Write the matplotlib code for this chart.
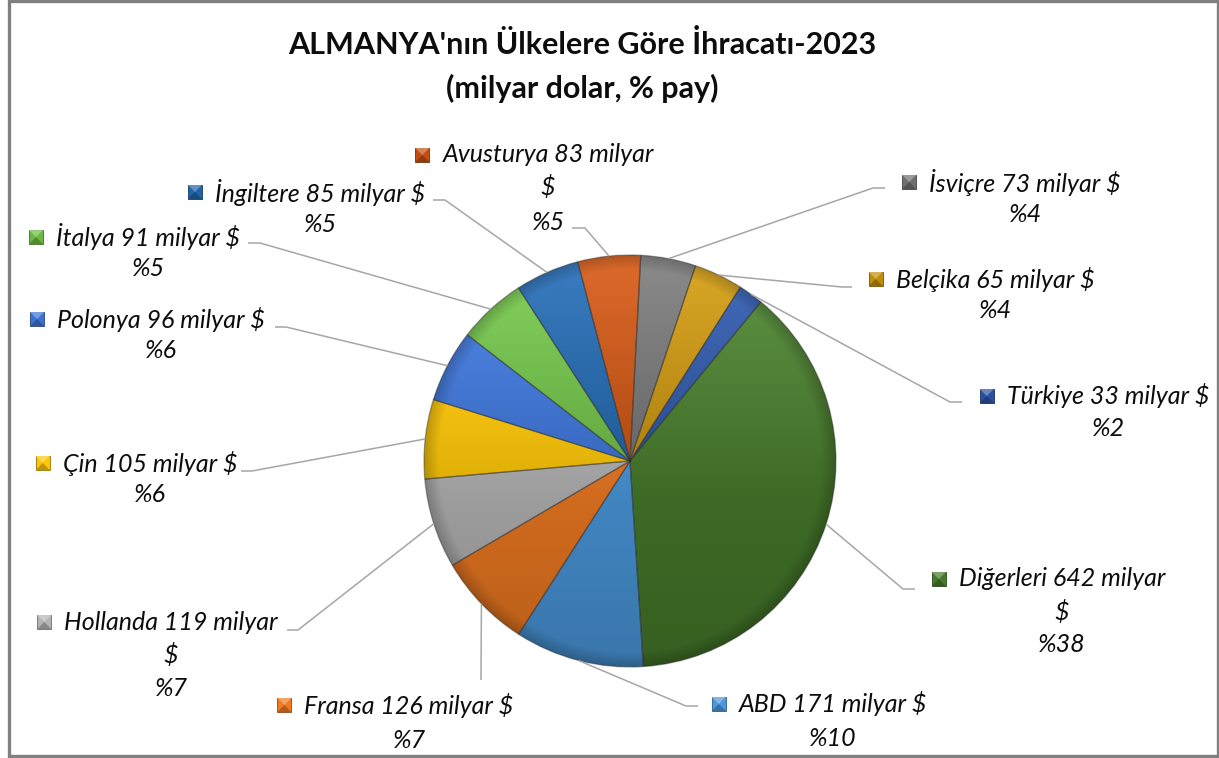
import numpy as np
import matplotlib.pyplot as plt
from matplotlib.patches import Rectangle, Polygon
from matplotlib.colors import to_rgb

plt.rcParams['font.family'] = ['Lato', 'DejaVu Sans']

W, H = 1219, 758

# veriler (Excel'deki sira, saat 12'den saat yonunde)
ulkeler = ['İsviçre', 'Belçika', 'Türkiye', 'Diğerleri', 'ABD', 'Fransa',
           'Hollanda', 'Çin', 'Polonya', 'İtalya', 'İngiltere', 'Avusturya']
ihracat = [73, 65, 33, 642, 171, 126, 119, 105, 96, 91, 85, 83]
renkler = ['#6f6f6f', '#c08d0c', '#2a52a0', '#467a2b', '#4a98dc', '#ef7a22',
           '#b4b4b4', '#fcc506', '#3b72d4', '#6bb944', '#1f62a6', '#c24f10']
# etiketin satir kirilmasi (Excel'deki gibi)
kirik = [False, False, False, True, False, False, True, False, False, False, False, True]

# etiket yerlesimi: metin merkezi x, satir y'leri, kilavuz cizgi kosesi ve ucu
etiket_x = [1025, 995, 1108, 1062, 833, 409, 171, 150, 161, 148, 320, 548]
etiket_y = [[182, 214], [279, 311], [396, 429], [579, 612, 645], [704, 738],
            [705, 740], [622, 655, 688], [463, 495], [319, 350], [237, 268],
            [192, 225], [155, 187, 222]]
kose = [(873, 188), (842, 287), (950, 402), (903, 589), (686, 706), (481, 680),
        (298, 630), (252, 471), (286, 327), (260, 243), (445, 200), (585, 228)]
uc = [(885, 188), (852, 287), (962, 402), (915, 589), (698, 706), (481, 680),
      (287, 630), (241, 471), (275, 327), (248, 243), (433, 200), (572, 228)]

toplam = sum(ihracat)
paylar = [round(v / toplam * 100) for v in ihracat]

fig = plt.figure(figsize=(W / 100, H / 100), dpi=100)
ax = fig.add_axes([0, 0, 1, 1])

cx, cy, R = 630, 461, 206
wedges, _ = ax.pie(ihracat, colors=renkler, startangle=-87, counterclock=True,
                   center=(cx, cy), radius=R,
                   wedgeprops=dict(edgecolor=(0.15, 0.15, 0.15, 0.4), linewidth=0.9))
ax.set_xlim(0, W)
ax.set_ylim(H, 0)
ax.set_aspect('equal')
ax.axis('off')

# dilimlere Excel benzeri golgeleme
yy, xx = np.mgrid[0:1:400j, 0:1:400j]
rr = np.hypot(xx - 0.5, yy - 0.5) * 2
for w, c in zip(wedges, renkler):
    base = np.array(to_rgb(c))
    acik = 0.18 * np.clip(0.6 - yy, 0, None)
    koyu = 1 - 0.22 * yy
    img = base[None, None, :] * koyu[..., None] + acik[..., None]
    kenar = np.clip((rr - 0.93) / 0.07, 0, 1)
    img = img * (1 - 0.2 * kenar[..., None])
    img = np.clip(img, 0, 1)
    im = ax.imshow(img, extent=(cx - R, cx + R, cy + R, cy - R), origin='upper',
                   zorder=1, interpolation='bilinear')
    im.set_clip_path(w)
    w.set_facecolor('none')
    w.set_zorder(2)
ax.set_xlim(0, W)
ax.set_ylim(H, 0)

fig.canvas.draw()
renderer = fig.canvas.get_renderer()

yazi = dict(fontsize=18, style='italic', color='#0d0d0d', ha='center', va='center')
for i, w in enumerate(wedges):
    orta = np.deg2rad((w.theta1 + w.theta2) / 2)
    px = cx + R * np.cos(orta)
    py = cy + R * np.sin(orta)
    ax.plot([px, kose[i][0], uc[i][0]], [py, kose[i][1], uc[i][1]],
            color='#a6a6a6', lw=1.1, zorder=3, solid_capstyle='butt')

    if kirik[i]:
        satirlar = [f'{ulkeler[i]} {ihracat[i]} milyar', '$', f'%{paylar[i]}']
    else:
        satirlar = [f'{ulkeler[i]} {ihracat[i]} milyar $', f'%{paylar[i]}']
    ilk = None
    for s, y in zip(satirlar, etiket_y[i]):
        t = ax.text(etiket_x[i], y, s, **yazi)
        if ilk is None:
            ilk = t
    sol = ilk.get_window_extent(renderer).x0
    k = 14
    kx = sol - 13 - k
    ky = etiket_y[i][0] - k / 2
    base = np.array(to_rgb(renkler[i]))
    ax.add_patch(Rectangle((kx, ky), k, k, facecolor=base, edgecolor=base * 0.6,
                           lw=0.6, zorder=4))
    ax.add_patch(Polygon([(kx, ky), (kx + k, ky), (kx + k / 2, ky + k / 2)],
                         facecolor=np.clip(base * 0.7 + 0.3, 0, 1), lw=0, zorder=5))
    ax.add_patch(Polygon([(kx, ky + k), (kx + k, ky + k), (kx + k / 2, ky + k / 2)],
                         facecolor=base * 0.75, lw=0, zorder=5))

ax.text(582, 45, "ALMANYA'nın Ülkelere Göre İhracatı-2023", fontsize=22,
        fontweight='bold', ha='center', va='center', color='#0d0d0d')
ax.text(582, 88, '(milyar dolar, % pay)', fontsize=22, fontweight='bold',
        ha='center', va='center', color='#0d0d0d')

ax.add_patch(Rectangle((9, 1), 1208.5, 754.5, facecolor='none', edgecolor='#808080',
                       lw=2.4, zorder=6, clip_on=False))

fig.savefig('out.png', dpi=100)
